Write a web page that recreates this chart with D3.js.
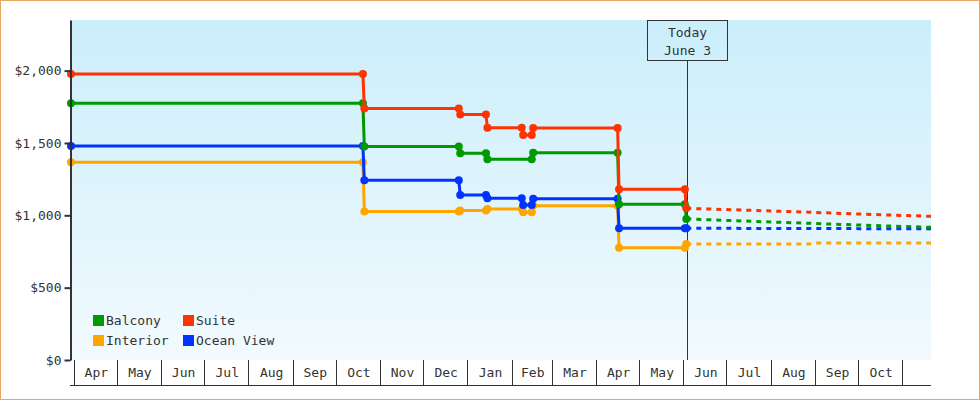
<!DOCTYPE html>
<html>
<head>
<meta charset="utf-8">
<script src="https://cdn.jsdelivr.net/npm/d3@7"></script>
<style>
  body { margin: 0; background: #fff; }
  svg { display: block; font-family: "DejaVu Sans Mono", monospace; }
</style>
</head>
<body>
<div id="plot"></div>
<script>
// Width and height
const w = 980;
const h = 400;
const plot = {left: 71, right: 931, top: 20, bottom: 360};

// price history (one array of dates and one of prices per cabin)
const suiteDates = ["2022-03-30", "2022-10-20", "2022-10-21", "2022-12-26", "2022-12-27", "2023-01-14", "2023-01-15",
  "2023-02-08", "2023-02-09", "2023-02-15", "2023-02-16", "2023-04-16", "2023-04-17", "2023-06-02", "2023-06-03"];
const suitePrices = [1977, 1977, 1738, 1738, 1697, 1697, 1606, 1606, 1555, 1555, 1603, 1603, 1180, 1180, 1048];

const balconyDates = ["2022-03-30", "2022-10-20", "2022-10-21", "2022-12-26", "2022-12-27", "2023-01-14", "2023-01-15",
  "2023-02-15", "2023-02-16", "2023-04-16", "2023-04-17", "2023-06-02", "2023-06-03"];
const balconyPrices = [1774, 1774, 1476, 1476, 1429, 1429, 1387, 1387, 1433, 1433, 1076, 1076, 975];

const oceanDates = suiteDates;
const oceanPrices = [1479, 1479, 1242, 1242, 1140, 1140, 1118, 1118, 1071, 1071, 1115, 1115, 910, 910, 910];

const interiorDates = suiteDates;
const interiorPrices = [1366, 1366, 1027, 1027, 1034, 1034, 1044, 1044, 1021, 1021, 1066, 1066, 775, 775, 802];

// forecast after today
const forecastDates = ["2023-06-03", "2023-07-01", "2023-08-01", "2023-08-28", "2023-09-01", "2023-10-01", "2023-11-21"];
const suiteForecast = [1048, 1040, 1030, 1022, 1020, 1009, 993];
const balconyForecast = [975, 965, 954, 945, 943, 933, 917];
const oceanForecast = [910, 910, 909, 909, 909, 908, 908];
const interiorForecast = [802, 802, 802, 802, 809, 809, 809];

const yTicks = [0, 500, 1000, 1500, 2000];
const todayLabel = ["Today", "June 3"];

const parse = d3.timeParse("%Y-%m-%d");
const today = new Date(2023, 5, 3, 12);

const series = [
  {name: "Interior", color: "#ffa500", dates: interiorDates, prices: interiorPrices, forecast: interiorForecast},
  {name: "Ocean View", color: "#0033ff", dates: oceanDates, prices: oceanPrices, forecast: oceanForecast},
  {name: "Balcony", color: "#009900", dates: balconyDates, prices: balconyPrices, forecast: balconyForecast},
  {name: "Suite", color: "#ff3300", dates: suiteDates, prices: suitePrices, forecast: suiteForecast}
];
const legendOrder = ["Balcony", "Suite", "Interior", "Ocean View"];

const xScale = d3.scaleTime()
  .domain([parse("2022-03-30"), parse("2023-11-21")])
  .range([plot.left, plot.right]);

const yScale = d3.scaleLinear()
  .domain([0, 2350])
  .range([plot.bottom, plot.top]);

// create SVG element
const svg = d3.select("div#plot")
  .append("svg")
    .attr("width", w)
    .attr("height", h);

const grad = svg.append("defs")
  .append("linearGradient")
    .attr("id", "bg")
    .attr("x1", 0).attr("y1", 0).attr("x2", 0).attr("y2", 1);
grad.append("stop").attr("offset", "0%").attr("stop-color", "#cbeefb");
grad.append("stop").attr("offset", "100%").attr("stop-color", "#f2fafe");

// outer frame
svg.append("rect")
  .attr("x", 0.5).attr("y", 0.5)
  .attr("width", w - 1).attr("height", h - 1)
  .attr("fill", "#fff")
  .attr("stroke", "#e8a860");

// plot background
svg.append("rect")
  .attr("x", plot.left)
  .attr("y", plot.top)
  .attr("width", plot.right - plot.left)
  .attr("height", plot.bottom - plot.top)
  .attr("fill", "url(#bg)");

// month cells under the plot
const months = d3.timeMonths(parse("2022-04-01"), parse("2023-11-02"));
const xAxis = svg.append("g").attr("id", "xaxis").attr("shape-rendering", "crispEdges");

xAxis.append("line")
  .attr("x1", plot.left - 1).attr("x2", plot.right)
  .attr("y1", 385.5).attr("y2", 385.5)
  .attr("stroke", "#333");

xAxis.selectAll("line.sep")
  .data(months)
  .enter()
  .append("line")
    .attr("class", "sep")
    .attr("x1", d => Math.round(xScale(d)) + 0.5)
    .attr("x2", d => Math.round(xScale(d)) + 0.5)
    .attr("y1", plot.bottom)
    .attr("y2", 385.5)
    .attr("stroke", "#333");

xAxis.selectAll("text")
  .data(months.slice(0, -1))
  .enter()
  .append("text")
    .attr("x", d => (xScale(d) + xScale(d3.timeMonth.offset(d, 1))) / 2 + 1)
    .attr("y", 377)
    .attr("text-anchor", "middle")
    .attr("font-size", "13px")
    .attr("fill", "#333")
    .text(d3.timeFormat("%b"));

// today marker
const tx = Math.floor(xScale(today)) + 0.5;
svg.append("line")
  .attr("x1", tx).attr("x2", tx)
  .attr("y1", 60.5).attr("y2", plot.bottom)
  .attr("stroke", "#333")
  .attr("shape-rendering", "crispEdges");

svg.append("rect")
  .attr("x", tx - 40).attr("y", 20.5)
  .attr("width", 80).attr("height", 40)
  .attr("fill", "none")
  .attr("stroke", "#333")
  .attr("shape-rendering", "crispEdges");

svg.selectAll("text.today")
  .data(todayLabel)
  .enter()
  .append("text")
    .attr("class", "today")
    .attr("x", tx)
    .attr("y", (d, i) => 37 + i * 18)
    .attr("text-anchor", "middle")
    .attr("font-size", "13px")
    .attr("fill", "#333")
    .text(d => d);

// price lines
const line = d3.line()
  .x(d => xScale(d.date))
  .y(d => yScale(d.price));

series.forEach(s => {
  const pts = s.dates.map((d, i) => ({date: parse(d), price: s.prices[i]}));
  const fpts = forecastDates.map((d, i) => ({date: parse(d), price: s.forecast[i]}));
  const g = svg.append("g").attr("class", "series");

  g.append("path")
    .datum(fpts)
    .attr("d", line)
    .attr("fill", "none")
    .attr("stroke", s.color)
    .attr("stroke-width", 3)
    .attr("stroke-dasharray", "5,5");

  g.append("path")
    .datum(pts)
    .attr("d", line)
    .attr("fill", "none")
    .attr("stroke", s.color)
    .attr("stroke-width", 3);

  g.selectAll("circle")
    .data(pts)
    .enter()
    .append("circle")
      .attr("cx", d => xScale(d.date))
      .attr("cy", d => yScale(d.price))
      .attr("r", 4)
      .attr("fill", s.color);
});

// y axis
const yAxis = d3.axisLeft(yScale)
  .tickValues(yTicks)
  .tickFormat(d => "$" + d3.format(",")(d))
  .tickSize(6)
  .tickSizeOuter(0)
  .tickPadding(3);

const yg = svg.append("g")
  .attr("id", "yaxis")
  .attr("transform", `translate(${plot.left - 0.5}, 0)`)
  .call(yAxis);
yg.select(".domain").attr("stroke", "#333").attr("stroke-width", 2);
yg.selectAll(".tick line").attr("stroke", "#333").attr("stroke-width", 2);
yg.selectAll(".tick text")
  .attr("font-family", "DejaVu Sans Mono, monospace")
  .attr("font-size", "13px")
  .attr("fill", "#333");

// legend
const legend = svg.append("g").attr("id", "legend");
legendOrder.forEach((name, i) => {
  const s = series.find(d => d.name === name);
  const lx = 93 + (i % 2) * 90;
  const ly = 315 + Math.floor(i / 2) * 20;
  legend.append("rect")
    .attr("x", lx).attr("y", ly)
    .attr("width", 11).attr("height", 11)
    .attr("fill", s.color);
  legend.append("text")
    .attr("x", lx + 13)
    .attr("y", ly + 10)
    .attr("font-size", "13px")
    .attr("fill", "#333")
    .text(name);
});
</script>
</body>
</html>
